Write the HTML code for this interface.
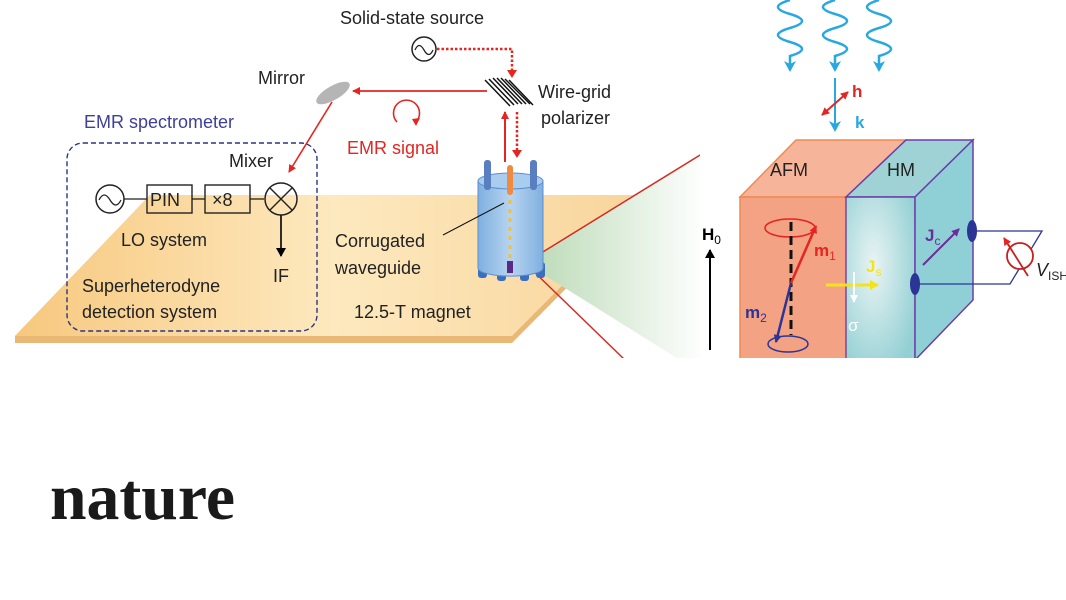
<!DOCTYPE html>
<html><head><meta charset="utf-8"><style>
html,body{margin:0;padding:0;background:#fff;width:1066px;height:600px;overflow:hidden}
svg{display:block}
.s{font-family:"Liberation Sans",sans-serif}
</style></head><body>
<svg width="1066" height="600" viewBox="0 0 1066 600" xmlns="http://www.w3.org/2000/svg">
<defs>
<linearGradient id="plat" x1="0" y1="0" x2="1" y2="0">
<stop offset="0" stop-color="#f7c87e"/><stop offset="0.5" stop-color="#fde9bf"/><stop offset="1" stop-color="#f8d49a"/></linearGradient>
<linearGradient id="green" x1="0" y1="0" x2="1" y2="0">
<stop offset="0" stop-color="#b9d9b4"/><stop offset="1" stop-color="#ffffff"/></linearGradient>
<linearGradient id="cyl" x1="0" y1="0" x2="1" y2="0">
<stop offset="0" stop-color="#7fb0e0"/><stop offset="0.5" stop-color="#b7d4f0"/><stop offset="1" stop-color="#7fb0e0"/></linearGradient>
<radialGradient id="hm" cx="0.4" cy="0.4" r="0.7"><stop offset="0" stop-color="#e6f2f2"/><stop offset="1" stop-color="#7fc8cc"/></radialGradient>
<marker id="ar" markerWidth="8" markerHeight="8" refX="7" refY="4" orient="auto" markerUnits="userSpaceOnUse"><path d="M0,0 L8,4 L0,8 Z" fill="#e52521"/></marker>
<marker id="ac" markerWidth="12" markerHeight="12" refX="9" refY="6" orient="auto" markerUnits="userSpaceOnUse"><path d="M0,0 L11,6 L0,12 L3,6 Z" fill="#29a8e0"/></marker>
<marker id="ad" markerWidth="8" markerHeight="8" refX="7" refY="4" orient="auto" markerUnits="userSpaceOnUse"><path d="M0,0 L8,4 L0,8 Z" fill="#2b3595"/></marker>
<marker id="ap" markerWidth="8" markerHeight="8" refX="7" refY="4" orient="auto" markerUnits="userSpaceOnUse"><path d="M0,0 L8,4 L0,8 Z" fill="#6a2e9a"/></marker>
<marker id="ay" markerWidth="10" markerHeight="10" refX="8" refY="5" orient="auto" markerUnits="userSpaceOnUse"><path d="M0,0 L9,5 L0,10 Z" fill="#f5e31a"/></marker>
<marker id="aw" markerWidth="8" markerHeight="8" refX="7" refY="4" orient="auto" markerUnits="userSpaceOnUse"><path d="M0,0 L8,4 L0,8 Z" fill="#fff"/></marker>
<marker id="ar2" markerWidth="8" markerHeight="8" refX="1" refY="4" orient="auto" markerUnits="userSpaceOnUse"><path d="M8,0 L0,4 L8,8 Z" fill="#e52521"/></marker>
<marker id="ak" markerWidth="10" markerHeight="10" refX="8" refY="5" orient="auto" markerUnits="userSpaceOnUse"><path d="M0,0 L9,5 L0,10 Z" fill="#000"/></marker>
</defs>
<g class="s">
<!-- platform -->
<polygon points="150,195 652,195 652,202 512,343 15,343 15,336" fill="#e8b874"/>
<polygon points="150,195 652,195 512,336 15,336" fill="url(#plat)"/>

<!-- red triangle / green -->
<polygon points="525,263 705,150 705,360 680,360" fill="url(#green)"/>
<line x1="525" y1="263" x2="705" y2="152" stroke="#d42a23" stroke-width="1.5"/>
<line x1="525" y1="263" x2="625" y2="360" stroke="#d42a23" stroke-width="1.5"/>
<rect x="700" y="140" width="10" height="220" fill="#fff"/>

<!-- top texts -->
<text x="340" y="24" font-size="18" fill="#222">Solid-state source</text>
<circle cx="424" cy="49" r="12" fill="none" stroke="#222" stroke-width="1.5"/>
<path d="M415,50 q4,-9 9,0 q5,9 9,0" fill="none" stroke="#222" stroke-width="1.3"/>
<path d="M437,49 H512 V74" fill="none" stroke="#e52521" stroke-width="2.5" stroke-dasharray="2.5,2"/>
<path d="M507,70 L512,78 L517,70 Z" fill="#e52521"/>
<g stroke="#111" stroke-width="1.5">
<line x1="485" y1="80" x2="510" y2="106"/><line x1="489" y1="79" x2="514" y2="105"/><line x1="493" y1="78" x2="518" y2="104"/><line x1="497" y1="78" x2="522" y2="104"/><line x1="501" y1="78" x2="526" y2="104"/><line x1="505" y1="79" x2="530" y2="104"/><line x1="509" y1="80" x2="533" y2="105"/>
</g>
<text x="538" y="98" font-size="18" fill="#222">Wire-grid</text>
<text x="541" y="124" font-size="18" fill="#222">polarizer</text>
<ellipse cx="333" cy="93" rx="19" ry="7" transform="rotate(-30 333 93)" fill="#b5b5b5"/>
<text x="258" y="84" font-size="18" fill="#222">Mirror</text>
<line x1="487" y1="91" x2="353" y2="91" stroke="#e52521" stroke-width="1.8" marker-end="url(#ar)"/>
<path d="M397,122 a13,13 0 1 1 19,0" fill="none" stroke="#e52521" stroke-width="1.6"/>
<path d="M412,119 L420,118 L416,126 Z" fill="#e52521"/>
<text x="347" y="154" font-size="18" fill="#e52521">EMR signal</text>
<line x1="332" y1="102" x2="289" y2="172" stroke="#e52521" stroke-width="1.6" marker-end="url(#ar)"/>
<line x1="505" y1="162" x2="505" y2="112" stroke="#e52521" stroke-width="2" marker-end="url(#ar)"/>
<line x1="517" y1="112" x2="517" y2="152" stroke="#e52521" stroke-width="2.5" stroke-dasharray="2.5,2"/>
<path d="M512,150 L517,158 L522,150 Z" fill="#e52521"/>

<!-- spectrometer -->
<text x="84" y="128" font-size="18" fill="#3e3f98">EMR spectrometer</text>
<rect x="67" y="143" width="250" height="188" rx="16" fill="none" stroke="#2c3580" stroke-width="1.4" stroke-dasharray="5,3"/>
<text x="229" y="167" font-size="18" fill="#222">Mixer</text>
<circle cx="110" cy="199" r="14" fill="none" stroke="#222" stroke-width="1.5"/>
<path d="M99,200 q5,-10 11,0 q6,10 11,0" fill="none" stroke="#222" stroke-width="1.3"/>
<line x1="124" y1="199" x2="147" y2="199" stroke="#222" stroke-width="1.3"/>
<rect x="147" y="185" width="45" height="28" fill="none" stroke="#222" stroke-width="1.4"/>
<text x="150" y="206" font-size="18" fill="#222">PIN</text>
<line x1="192" y1="199" x2="205" y2="199" stroke="#222" stroke-width="1.3"/>
<rect x="205" y="185" width="45" height="28" fill="none" stroke="#222" stroke-width="1.4"/>
<text x="212" y="206" font-size="18" fill="#222">×8</text>
<line x1="250" y1="199" x2="264" y2="199" stroke="#222" stroke-width="1.3"/>
<circle cx="281" cy="199" r="16" fill="none" stroke="#222" stroke-width="1.5"/>
<line x1="270" y1="188" x2="292" y2="210" stroke="#222" stroke-width="1.4"/>
<line x1="292" y1="188" x2="270" y2="210" stroke="#222" stroke-width="1.4"/>
<line x1="281" y1="215" x2="281" y2="256" stroke="#1a1a1a" stroke-width="1.8" marker-end="url(#ak)"/>
<text x="273" y="282" font-size="18" fill="#222">IF</text>
<text x="121" y="246" font-size="18" fill="#222">LO system</text>
<text x="82" y="292" font-size="18" fill="#222">Superheterodyne</text>
<text x="82" y="318" font-size="18" fill="#222">detection system</text>

<!-- magnet -->
<rect x="478" y="262" width="9" height="16" rx="3" fill="#3a6fc0"/>
<rect x="497" y="265" width="9" height="16" rx="3" fill="#3a6fc0"/>
<rect x="520" y="265" width="9" height="16" rx="3" fill="#3a6fc0"/>
<rect x="536" y="262" width="9" height="16" rx="3" fill="#3a6fc0"/>
<path d="M478,181 V268 A32,8 0 0 0 543,268 V181 Z" fill="url(#cyl)" stroke="#5c8fcf" stroke-width="1"/>
<ellipse cx="510.5" cy="181" rx="32.5" ry="8" fill="#a9cdef" stroke="#5c8fcf" stroke-width="1"/>
<rect x="484" y="160" width="7" height="30" rx="3" fill="#5a7fc0"/>
<rect x="530" y="160" width="7" height="30" rx="3" fill="#5a7fc0"/>
<rect x="507" y="165" width="6" height="30" rx="3" fill="#f08a40"/>
<line x1="510" y1="200" x2="510" y2="258" stroke="#f0c040" stroke-width="3" stroke-dasharray="4,5"/>
<rect x="507" y="261" width="6" height="12" fill="#5a2a8a"/>
<line x1="443" y1="235" x2="504" y2="203" stroke="#111" stroke-width="1"/>
<text x="335" y="247" font-size="18" fill="#222">Corrugated</text>
<text x="335" y="274" font-size="18" fill="#222">waveguide</text>
<text x="354" y="318" font-size="18" fill="#222">12.5-T magnet</text>

<!-- waves -->
<g fill="none" stroke="#29a8e0" stroke-width="2.5">
<path d="M790,0 q-24,7 0,14 q24,7 0,14 q-24,7 0,14 q24,7 0,14 v14" marker-end="url(#ac)"/>
<path d="M835,0 q-24,7 0,14 q24,7 0,14 q-24,7 0,14 q24,7 0,14 v14" marker-end="url(#ac)"/>
<path d="M879,0 q-24,7 0,14 q24,7 0,14 q-24,7 0,14 q24,7 0,14 v14" marker-end="url(#ac)"/>
</g>
<line x1="835" y1="78" x2="835" y2="130" stroke="#29a8e0" stroke-width="2" marker-end="url(#ac)"/>
<line x1="822" y1="115" x2="848" y2="92" stroke="#e52521" stroke-width="2" marker-end="url(#ar)" marker-start="url(#ar2)"/>
<text x="852" y="97" font-size="17" font-weight="bold" fill="#e52521">h</text>
<text x="855" y="128" font-size="17" font-weight="bold" fill="#29a8e0">k</text>

<!-- block -->
<polygon points="740,197 796,140 906,140 846,197" fill="#f6b49a" stroke="#f08a50" stroke-width="1.5"/>
<rect x="740" y="197" width="106" height="170" fill="#f3a283" stroke="#f08a50" stroke-width="1.5"/>
<polygon points="846,197 906,140 973,140 915,197" fill="#9fd2d4" stroke="#6a3ea8" stroke-width="1.5"/>
<rect x="846" y="197" width="69" height="170" fill="url(#hm)" opacity="0.85" stroke="#6a3ea8" stroke-width="1.5"/>
<polygon points="915,197 973,140 973,300 915,360" fill="#8fd0d6" stroke="#6a3ea8" stroke-width="1.5"/>
<text x="770" y="176" font-size="18" fill="#222">AFM</text>
<text x="887" y="176" font-size="18" fill="#222">HM</text>

<line x1="710" y1="350" x2="710" y2="250" stroke="#000" stroke-width="2" marker-end="url(#ak)"/>
<text x="702" y="240" font-size="17" font-weight="bold" fill="#000">H<tspan font-size="12" font-weight="normal" dy="4">0</tspan></text>

<ellipse cx="790" cy="228" rx="25" ry="9" fill="none" stroke="#e52521" stroke-width="1.5"/>
<ellipse cx="788" cy="344" rx="20" ry="8" fill="none" stroke="#2b3595" stroke-width="1.5"/>
<line x1="791" y1="222" x2="791" y2="335" stroke="#111" stroke-width="3" stroke-dasharray="9,5"/>
<line x1="791" y1="283" x2="816" y2="226" stroke="#e52521" stroke-width="2.5" marker-end="url(#ar)"/>
<line x1="791" y1="283" x2="776" y2="342" stroke="#2b3595" stroke-width="2.5" marker-end="url(#ad)"/>
<text x="814" y="256" font-size="17" font-weight="bold" fill="#e52521">m<tspan font-size="12" font-weight="normal" dy="4">1</tspan></text>
<text x="745" y="318" font-size="17" font-weight="bold" fill="#2b3595">m<tspan font-size="12" font-weight="normal" dy="4">2</tspan></text>

<line x1="826" y1="285" x2="878" y2="285" stroke="#f5e31a" stroke-width="3" marker-end="url(#ay)"/>
<text x="866" y="272" font-size="17" font-weight="bold" fill="#f5e31a">J<tspan font-size="12" font-weight="normal" dy="4">s</tspan></text>
<line x1="854" y1="272" x2="854" y2="302" stroke="#fff" stroke-width="1.8" marker-end="url(#aw)"/>
<text x="848" y="331" font-size="17" fill="#fff">σ</text>

<line x1="923" y1="265" x2="959" y2="229" stroke="#6a2e9a" stroke-width="2" marker-end="url(#ap)"/>
<text x="925" y="241" font-size="17" font-weight="bold" fill="#6a2e9a">J<tspan font-size="12" font-weight="normal" dy="4">c</tspan></text>

<path d="M973,231 H1042 L1010,284 H915" fill="none" stroke="#2b3595" stroke-width="1.3"/>
<ellipse cx="972" cy="231" rx="5" ry="11" fill="#2b3595"/>
<ellipse cx="915" cy="284" rx="5" ry="11" fill="#2b3595"/>
<circle cx="1020" cy="256" r="13" fill="#fff" stroke="#c8201d" stroke-width="1.8"/>
<line x1="1028" y1="276" x2="1004" y2="238" stroke="#c8201d" stroke-width="1.8" marker-end="url(#ar)"/>
<text x="1036" y="276" font-size="18" font-style="italic" fill="#222">V<tspan font-size="12" font-style="normal" dy="4">ISH</tspan></text>
</g>
<!-- image cut -->
<rect x="0" y="358" width="1066" height="60" fill="#fff"/>

<text x="50" y="519" style="font-family:'Liberation Serif',serif;font-weight:bold" font-size="66" textLength="185" lengthAdjust="spacingAndGlyphs" fill="#1a1a1a">nature</text>
</svg>
</body></html>
